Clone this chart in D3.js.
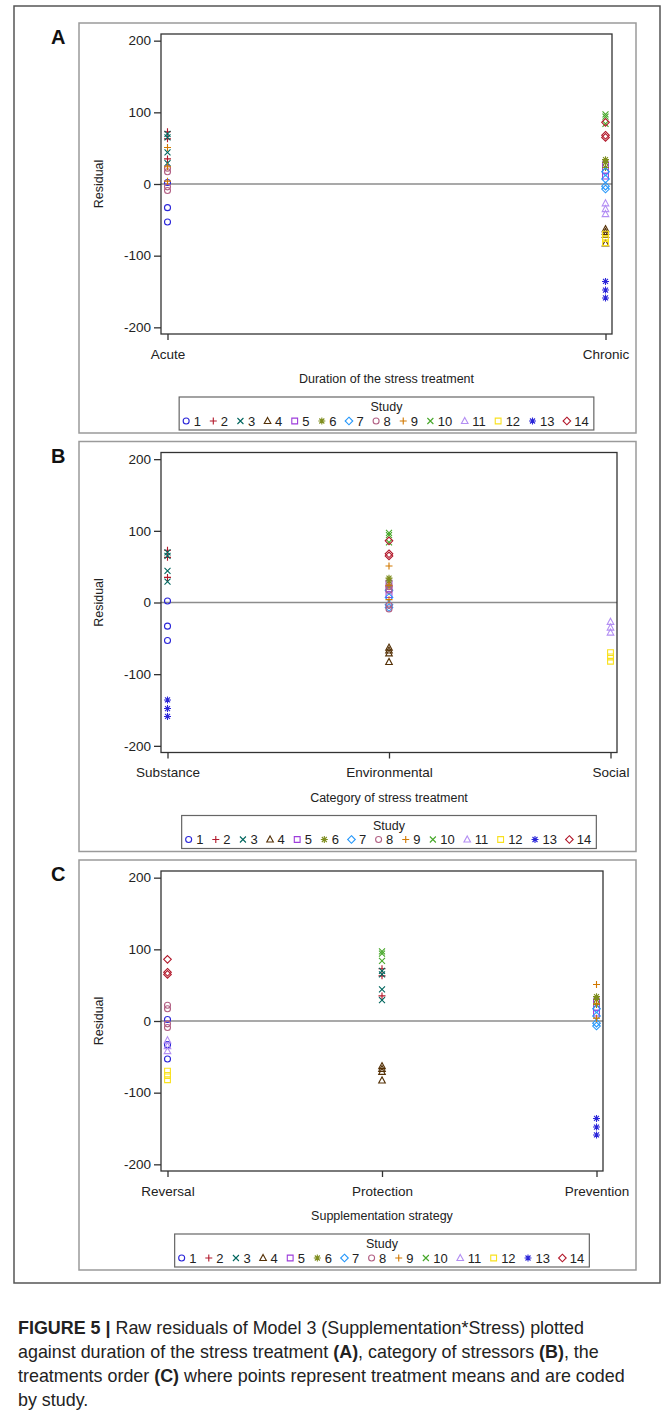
<!DOCTYPE html>
<html>
<head>
<meta charset="utf-8">
<script src="https://cdn.jsdelivr.net/npm/d3@7"></script>
<style>
  html, body { margin: 0; padding: 0; background: #fff; }
  svg text { font-family: "Liberation Sans", Arial, sans-serif; }
</style>
</head>
<body>
<svg id="chart" width="672" height="1421"></svg>
<script>
// ---------------- DATA ----------------
const studies = [1, 2, 3, 4, 5, 6, 7, 8, 9, 10, 11, 12, 13, 14];
const durationLabels = ["Acute", "Chronic"];
const categoryLabels = ["Substance", "Environmental", "Social"];
const strategyLabels = ["Reversal", "Protection", "Prevention"];
const yTicks = [200, 100, 0, -100, -200];

// study-level assignments (index = study - 1)
const studyDuration = ["Acute", "Acute", "Acute", "Chronic", "Chronic", "Chronic", "Chronic",
                       "Acute", "Acute", "Chronic", "Chronic", "Chronic", "Chronic", "Chronic"];
const studyCategory = ["Substance", "Substance", "Substance", "Environmental", "Environmental",
                       "Environmental", "Environmental", "Environmental", "Environmental",
                       "Environmental", "Social", "Social", "Substance", "Environmental"];
const studyStrategy = ["Reversal", "Protection", "Protection", "Protection", "Prevention",
                       "Prevention", "Prevention", "Reversal", "Prevention", "Protection",
                       "Reversal", "Reversal", "Prevention", "Reversal"];

// residuals (treatment means) per point
const pointStudy    = [1, 1, 1,   2, 2, 2,   3, 3, 3, 3,   4, 4, 4, 4,   5, 5, 5,   6, 6, 6,
                       7, 7, 7, 7,   8, 8, 8, 8,   9, 9, 9,   10, 10, 10,   11, 11, 11,
                       12, 12, 12,   13, 13, 13,   14, 14, 14];
const pointResidual = [2, -33, -53,   73, 63, 35,   70, 65, 44, 29,   -63, -67, -71, -83,
                       27, 19, 11,   34, 30, 23,   17, 7, -3, -7,   22, 17, -4, -9,
                       51, 24, 4,   97, 94, 84,   -27, -35, -42,   -70, -76, -82,
                       -136, -148, -159,   86, 68, 65];

// ---------------- STYLE ----------------
const studyColors = ["#2A25D9", "#B2182B", "#01665E", "#543005", "#9D3CDB", "#7F8E1F", "#2597FA",
                     "#B26084", "#D17800", "#47A82A", "#B38EF3", "#F9E11E", "#2A25D9", "#B2182B"];
const markerCycle = ["circle", "plus", "x", "triangle", "square", "asterisk", "diamond"];

const svg = d3.select("#chart");
const points = pointStudy.map((s, i) => ({ study: s, value: pointResidual[i] }));

function markerPath(type) {
  const p = d3.path();
  switch (type) {
    case "circle": p.arc(0, 0, 3, 0, 2 * Math.PI); p.closePath(); break;
    case "plus": p.moveTo(-3.5, 0); p.lineTo(3.5, 0); p.moveTo(0, -3.5); p.lineTo(0, 3.5); break;
    case "x": p.moveTo(-3, -3); p.lineTo(3, 3); p.moveTo(-3, 3); p.lineTo(3, -3); break;
    case "triangle": p.moveTo(0, -3.6); p.lineTo(3.3, 2.5); p.lineTo(-3.3, 2.5); p.closePath(); break;
    case "square": p.rect(-2.9, -2.9, 5.8, 5.8); break;
    case "asterisk":
      p.moveTo(-3.5, 0); p.lineTo(3.5, 0); p.moveTo(0, -3.5); p.lineTo(0, 3.5);
      p.moveTo(-2.5, -2.5); p.lineTo(2.5, 2.5); p.moveTo(-2.5, 2.5); p.lineTo(2.5, -2.5); break;
    case "diamond": p.moveTo(0, -3.8); p.lineTo(3.8, 0); p.lineTo(0, 3.8); p.lineTo(-3.8, 0); p.closePath(); break;
  }
  return p.toString();
}
const markerOf = s => markerCycle[(s - 1) % markerCycle.length];
const colorOf = s => studyColors[s - 1];

// outer frame
svg.append("rect").attr("x", 14).attr("y", 6).attr("width", 646).attr("height", 1277)
  .attr("fill", "none").attr("stroke", "#555").attr("stroke-width", 1.5);

const panels = [
  { letter: "A", cats: durationLabels, assign: studyDuration, right: 612, title: "Duration of the stress treatment" },
  { letter: "B", cats: categoryLabels, assign: studyCategory, right: 617, title: "Category of stress treatment" },
  { letter: "C", cats: strategyLabels, assign: studyStrategy, right: 603, title: "Supplementation strategy" }
];

panels.forEach((pn, k) => {
  const off = k * 418.5;
  const g = svg.append("g").attr("transform", `translate(0,${off})`);
  // panel box
  g.append("rect").attr("x", 79).attr("y", 23).attr("width", 557).attr("height", 410)
    .attr("fill", "none").attr("stroke", "#9a9a9a").attr("stroke-width", 1.5);
  g.append("text").attr("x", 51).attr("y", 44).attr("font-size", 20).attr("font-weight", "bold")
    .attr("fill", "#111").text(pn.letter);

  const left = 161, right = pn.right, top = 34, bottom = 334;
  const y = d3.scaleLinear().domain([-209.3, 209.3]).range([bottom, top]);
  const x = d3.scalePoint().domain(pn.cats).range([left + 6.5, right - 6.5]);

  // zero reference line
  g.append("line").attr("x1", left).attr("x2", right).attr("y1", y(0)).attr("y2", y(0))
    .attr("stroke", "#8c8c8c").attr("stroke-width", 1.3);

  // axes
  const yAxis = g.append("g").attr("transform", `translate(${left},0)`)
    .call(d3.axisLeft(y).tickValues(yTicks).tickSize(7).tickPadding(3).tickFormat(d => String(d)));
  yAxis.select(".domain").remove();
  yAxis.selectAll("line").attr("stroke", "#333").attr("stroke-width", 1.3);
  yAxis.selectAll("text").attr("font-size", 13.5).attr("fill", "#222")
    .style("font-family", "'Liberation Sans', Arial, sans-serif");

  const xAxis = g.append("g").attr("transform", `translate(0,${bottom})`)
    .call(d3.axisBottom(x).tickSize(6).tickPadding(9));
  xAxis.select(".domain").remove();
  xAxis.selectAll("line").attr("stroke", "#333").attr("stroke-width", 1.3);
  xAxis.selectAll("text").attr("font-size", 13.5).attr("fill", "#222")
    .style("font-family", "'Liberation Sans', Arial, sans-serif");

  // plot frame
  g.append("rect").attr("x", left).attr("y", top).attr("width", right - left).attr("height", bottom - top)
    .attr("fill", "none").attr("stroke", "#333").attr("stroke-width", 1.3);

  // y label
  g.append("text").attr("transform", `translate(103,${(top + bottom) / 2}) rotate(-90)`)
    .attr("text-anchor", "middle").attr("font-size", 12.5).attr("fill", "#222").text("Residual");
  // x title
  const cx = (left + right) / 2;
  g.append("text").attr("x", cx).attr("y", 383).attr("text-anchor", "middle")
    .attr("font-size", 12.5).attr("fill", "#222").text(pn.title);

  // points
  g.append("g").selectAll("path").data(points).join("path")
    .attr("transform", d => `translate(${x(pn.assign[d.study - 1])},${y(d.value)})`)
    .attr("d", d => markerPath(markerOf(d.study)))
    .attr("fill", "none").attr("stroke", d => colorOf(d.study)).attr("stroke-width", 1.1);

  // legend
  const lg = g.append("g");
  const box = lg.append("rect").attr("fill", "none").attr("stroke", "#666").attr("stroke-width", 1.2);
  lg.append("text").attr("x", cx).attr("y", 411).attr("text-anchor", "middle")
    .attr("font-size", 12.5).attr("fill", "#222").text("Study");
  const items = lg.append("g");
  const textOff = 7.5, gap = 12.4;
  let cur = 0;
  studies.forEach(s => {
    items.append("path").attr("transform", `translate(${cur},421)`).attr("d", markerPath(markerOf(s)))
      .attr("fill", "none").attr("stroke", colorOf(s)).attr("stroke-width", 1.1);
    const t = items.append("text").attr("x", cur + textOff).attr("y", 425.5).attr("font-size", 13)
      .attr("fill", "#222").text(s);
    cur = cur + textOff + t.node().getComputedTextLength() + gap;
  });
  const itemsWidth = cur - gap + 7;
  const bx = cx - (itemsWidth + 5) / 2;
  items.attr("transform", `translate(${bx + 7},0)`);
  box.attr("x", bx).attr("y", 397).attr("width", itemsWidth + 5).attr("height", 33);
});

// caption
const caption = [
  [["FIGURE 5 | ", true], ["Raw residuals of Model 3 (Supplementation*Stress) plotted", false]],
  [["against duration of the stress treatment ", false], ["(A)", true], [", category of stressors ", false], ["(B)", true], [", the", false]],
  [["treatments order ", false], ["(C)", true], [" where points represent treatment means and are coded", false]],
  [["by study.", false]]
];
caption.forEach((line, i) => {
  const t = svg.append("text").attr("x", 18).attr("y", 1334 + i * 24).attr("font-size", 17.9).attr("fill", "#222");
  line.forEach(([txt, b]) => t.append("tspan").attr("font-weight", b ? "bold" : "normal").text(txt));
});
</script>
</body>
</html>
